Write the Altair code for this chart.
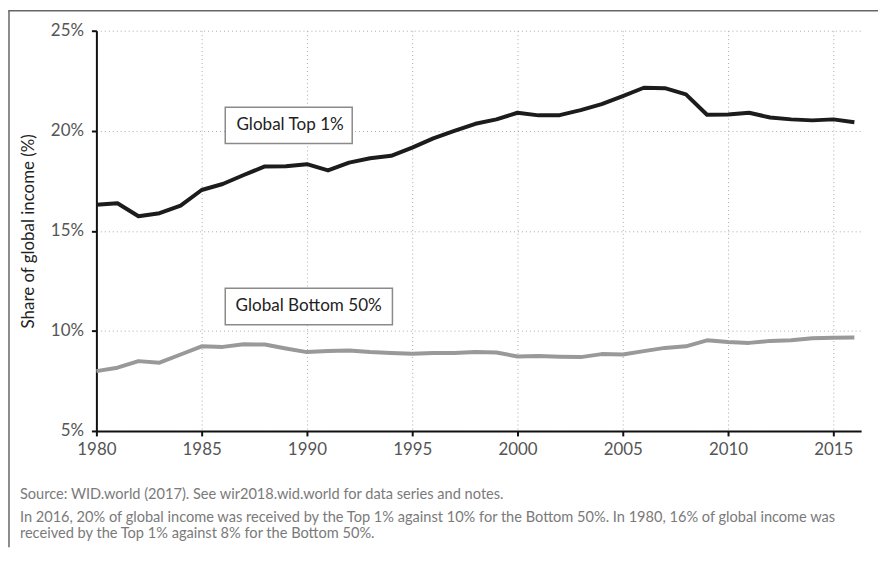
import altair as alt
import pandas as pd

years = list(range(1980, 2017))
top1 = [16.30, 16.38, 15.73, 15.88, 16.26, 17.04, 17.34, 17.79, 18.22, 18.23,
        18.33, 18.02, 18.41, 18.63, 18.75, 19.16, 19.62, 19.99, 20.35, 20.57,
        20.90, 20.77, 20.78, 21.03, 21.33, 21.73, 22.15, 22.13, 21.82, 20.80,
        20.81, 20.90, 20.66, 20.57, 20.52, 20.57, 20.43]
bottom50 = [7.99, 8.16, 8.49, 8.41, 8.82, 9.23, 9.20, 9.33, 9.32, 9.12,
            8.94, 9.00, 9.02, 8.94, 8.90, 8.86, 8.89, 8.90, 8.95, 8.92,
            8.72, 8.74, 8.71, 8.69, 8.84, 8.82, 8.99, 9.15, 9.23, 9.53,
            9.45, 9.40, 9.50, 9.53, 9.63, 9.66, 9.67]

series_names = ["Global Top 1%", "Global Bottom 50%"]
series_colors = ["#1c1c1c", "#999999"]

x_ticks = [1980, 1985, 1990, 1995, 2000, 2005, 2010, 2015]
y_ticks = [5, 10, 15, 20, 25]

# label boxes (data coordinates)
box_x1 = [1986.12, 1986.12]
box_x2 = [1992.15, 1994.06]
box_y1 = [19.36, 10.31]
box_y2 = [21.18, 12.13]
lab_x = [1989.2, 1990.08]
lab_y = [20.27, 11.22]

notes = [
    "Source: WID.world (2017). See wir2018.wid.world for data series and notes.",
    "In 2016, 20% of global income was received by the Top 1% against 10% for the Bottom 50%. In 1980, 16% of global income was",
    "received by the Top 1% against 8% for the Bottom 50%.",
]
note_y = [472, 495, 511]

df = pd.DataFrame({
    "year": years * 2,
    "share": top1 + bottom50,
    "series": [series_names[0]] * len(years) + [series_names[1]] * len(years),
})
boxes = pd.DataFrame({"x1": box_x1, "x2": box_x2, "y1": box_y1, "y2": box_y2,
                      "lx": lab_x, "ly": lab_y, "label": series_names})
notes_df = pd.DataFrame({"text": notes, "py": note_y})

W, H = 770, 403
xscale = alt.Scale(domain=[1980, 2016.32], nice=False, zero=False)
yscale = alt.Scale(domain=[5, 25], nice=False, zero=False)

lines = alt.Chart(df).mark_line(strokeWidth=4, strokeJoin="round").encode(
    x=alt.X("year:Q", scale=xscale,
            axis=alt.Axis(values=x_ticks, format="d", title=None, labelFlush=False)),
    y=alt.Y("share:Q", scale=yscale,
            axis=alt.Axis(values=y_ticks, labelExpr="datum.value + '%'",
                          title="Share of global income (%)", labelFlush=False)),
    color=alt.Color("series:N", scale=alt.Scale(domain=series_names, range=series_colors),
                    legend=None),
    detail="series:N",
)

rects = alt.Chart(boxes).mark_rect(fill="white", stroke="#8a8a8a", strokeWidth=1.5).encode(
    x=alt.X("x1:Q", scale=xscale), x2="x2:Q",
    y=alt.Y("y1:Q", scale=yscale), y2="y2:Q",
)
labels = alt.Chart(boxes).mark_text(font="Lato", fontSize=17.2, color="#222222",
                                    align="center", baseline="middle").encode(
    x=alt.X("lx:Q", scale=xscale), y=alt.Y("ly:Q", scale=yscale), text="label:N",
)

note_text = alt.Chart(notes_df).mark_text(font="Lato", fontSize=14.7, color="#7a7a7a",
                                          align="left", baseline="alphabetic").encode(
    x=alt.value(-77), y=alt.Y("py:Q", scale=None), text="text:N",
)

frame_df = pd.DataFrame({"a": [0]})
frame_left = alt.Chart(frame_df).mark_rule(color="#666666", strokeWidth=1.5).encode(
    x=alt.value(-88), y=alt.value(-20.5), y2=alt.value(520))
frame_top = alt.Chart(frame_df).mark_rule(color="#666666", strokeWidth=1.5).encode(
    x=alt.value(-88.5), x2=alt.value(787), y=alt.value(-20))

chart = alt.layer(lines, rects, labels, note_text, frame_left, frame_top).properties(
    width=W, height=H,
    autosize=alt.AutoSizeParams(type="none"),
    padding={"left": 89, "top": 21, "right": 18, "bottom": 117},
).configure_view(stroke=None).configure_axis(
    labelFont="Lato", titleFont="Lato",
    labelFontSize=17, labelColor="#555555",
    titleFontSize=17, titleColor="#222222", titleFontWeight="normal",
    domainColor="#111111", domainWidth=2,
    tickColor="#111111", tickWidth=2, tickSize=5,
    gridColor="#aaaaaa", gridDash=[1, 3], gridWidth=1,
).configure_axisY(labelPadding=8, titlePadding=13).configure_axisX(labelPadding=6)

chart.save("out.html", embed_options={"renderer": "svg", "actions": False})
